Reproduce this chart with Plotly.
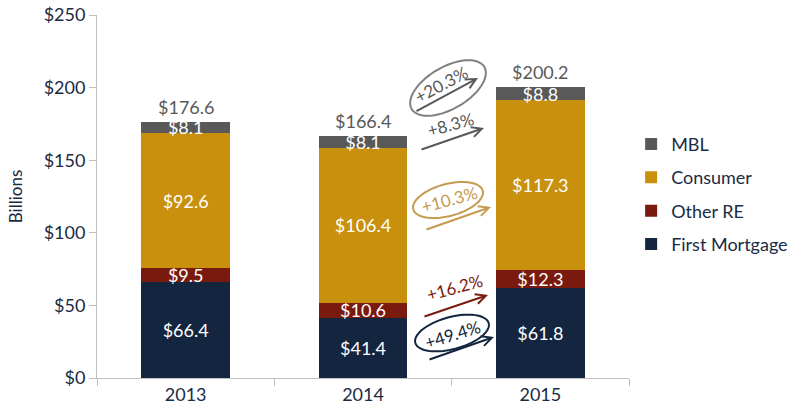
import math
import plotly.graph_objects as go

years = ["2013", "2014", "2015"]
first_mortgage = [66.4, 41.4, 61.8]
other_re = [9.5, 10.6, 12.3]
consumer = [92.6, 106.4, 117.3]
mbl = [8.1, 8.1, 8.8]
totals = [176.6, 166.4, 200.2]

growth_labels = ["+20.3%", "+8.3%", "+10.3%", "+16.2%", "+49.4%"]

C_NAVY = "#13253F"
C_RED = "#7A1A0E"
C_GOLD = "#C8900C"
C_GRAY = "#595959"
C_LGOLD = "#C49B50"
TXT = "#1A2B44"
FONT = "Lato"

# layout geometry (pixels)
W, H = 800, 416
ML, MR, MT, MB = 97, 171, 15, 38
PW, PH = W - ML - MR, H - MT - MB


def pp(px, py):
    return (px - ML) / PW, (H - MB - py) / PH


fig = go.Figure()
series = [
    ("First Mortgage", first_mortgage, C_NAVY, 4),
    ("Other RE", other_re, C_RED, 3),
    ("Consumer", consumer, C_GOLD, 2),
    ("MBL", mbl, C_GRAY, 1),
]
for name, vals, col, rank in series:
    fig.add_trace(go.Bar(
        x=years, y=vals, name=name, marker=dict(color=col, line=dict(width=0)),
        text=["$%.1f" % v for v in vals], textposition="inside",
        insidetextanchor="middle", constraintext="none",
        textfont=dict(color="white", size=18, family=FONT),
        legendgroup=name, legendrank=rank, hoverinfo="skip", cliponaxis=False,
    ))

annotations = []
for i, t in enumerate(totals):
    annotations.append(dict(x=i, y=t, xref="x", yref="y", text="$%.1f" % t,
                            showarrow=False, yshift=15,
                            xanchor="center", yanchor="middle",
                            font=dict(size=18, color=C_GRAY, family=FONT)))

# growth arrows: (tail px, head px, color)
arrows = [
    ((415, 112), (478, 78), C_GRAY),
    ((420, 150), (484, 128), C_GRAY),
    ((425, 230), (491, 207), C_LGOLD),
    ((423, 317), (488, 295), C_RED),
    ((428, 360), (494, 337), C_NAVY),
]
for (tx, ty), (hx, hy), col in arrows:
    x, y = pp(hx, hy)
    annotations.append(dict(x=x, y=y, xref="paper", yref="paper", text="",
                            showarrow=True, ax=tx - hx, ay=ty - hy,
                            arrowhead=5, arrowsize=1, arrowwidth=2,
                            arrowcolor=col))

# growth texts: (center px, angle, color)
gtexts = [
    ((441, 85), -28, C_GRAY),
    ((450, 124), -15, C_GRAY),
    ((449, 200), -15, C_LGOLD),
    ((454, 287), -15, C_RED),
    ((452, 334), -17, C_NAVY),
]
for lab, ((cx, cy), ang, col) in zip(growth_labels, gtexts):
    x, y = pp(cx, cy)
    annotations.append(dict(x=x, y=y, xref="paper", yref="paper", text=lab,
                            showarrow=False, textangle=ang,
                            xanchor="center", yanchor="middle",
                            font=dict(size=17, color=col, family=FONT)))

# ellipses: (center px, a, b, angle deg, color)
ellipses = [
    ((448, 88), 42, 21, -30, "#808080"),
    ((448, 200), 36, 16, -15, C_LGOLD),
    ((452, 333), 38, 16, -15, C_NAVY),
]
shapes = []
for (cx, cy), a, b, ang, col in ellipses:
    th = math.radians(ang)
    pts = []
    for i in range(73):
        t = 2 * math.pi * i / 72
        ex, ey = a * math.cos(t), b * math.sin(t)
        sx = cx + ex * math.cos(th) - ey * math.sin(th)
        sy = cy + ex * math.sin(th) + ey * math.cos(th)
        pts.append(pp(sx, sy))
    path = "M " + " L ".join("%.5f,%.5f" % p for p in pts) + " Z"
    shapes.append(dict(type="path", path=path, xref="paper", yref="paper",
                       line=dict(color=col, width=2)))

fig.update_layout(
    width=W, height=H, barmode="stack", bargap=0.5,
    margin=dict(l=ML, r=MR, t=MT, b=MB, autoexpand=False),
    plot_bgcolor="white", paper_bgcolor="white",
    font=dict(family=FONT, color=TXT, size=18),
    annotations=annotations, shapes=shapes,
    legend=dict(x=1.004, y=0.695, xanchor="left", yanchor="top",
                traceorder="grouped", tracegroupgap=7,
                font=dict(size=18, color=TXT, family=FONT)),
    xaxis=dict(type="category", range=[-0.5, 2.5], tickson="boundaries",
               ticks="outside", automargin=False,
               ticklen=7, tickcolor="#BFBFBF", showline=True,
               linecolor="#BFBFBF", linewidth=1, showgrid=False,
               tickfont=dict(size=18, color=TXT)),
    yaxis=dict(range=[0, 250], dtick=50, tickprefix="$", ticks="outside",
               automargin=False,
               ticklen=7, tickcolor="#BFBFBF", showline=True,
               linecolor="#BFBFBF", linewidth=1, showgrid=False,
               zeroline=False, tickfont=dict(size=18, color=TXT),
               title=dict(text="Billions", font=dict(size=17, color=TXT),
                          standoff=16)),
)

fig.write_html("out.html", config={"displayModeBar": False},
               post_script="document.body.style.margin='0';document.body.style.overflow='hidden';")
